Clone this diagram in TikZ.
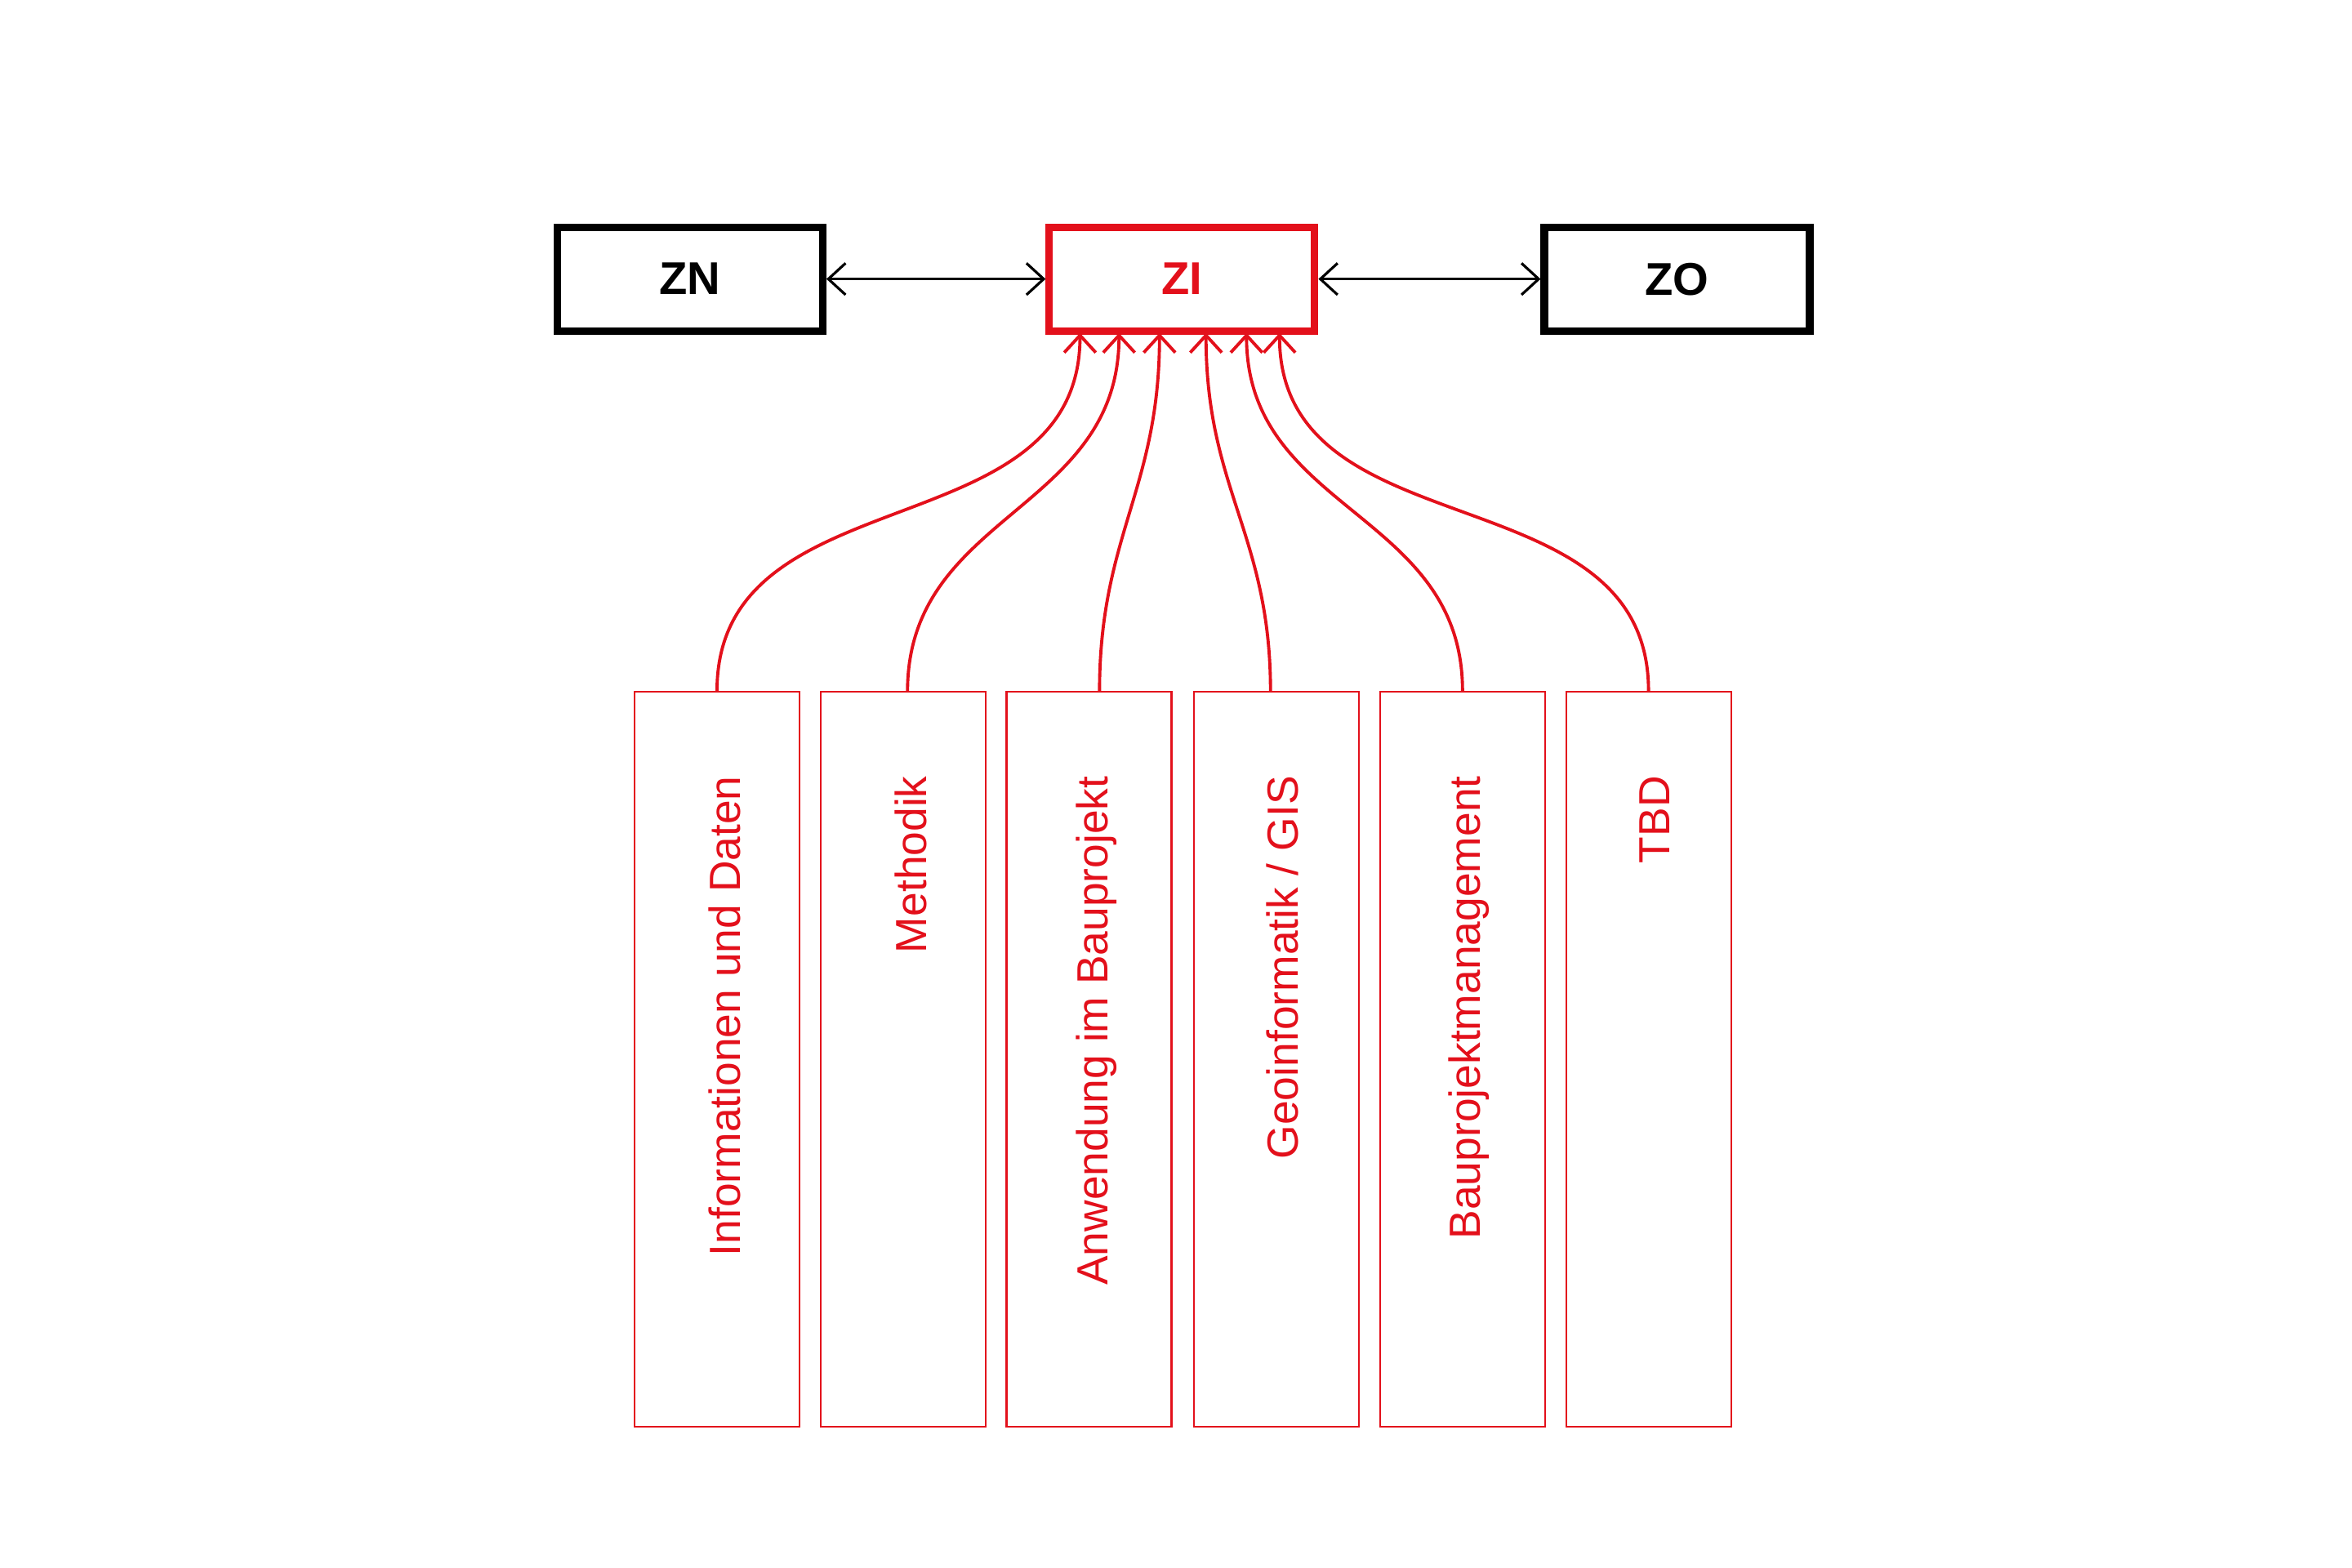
\documentclass[tikz,border=0pt]{standalone}
\usepackage{fontspec}
\setmainfont{Liberation Sans}
\usetikzlibrary{arrows.meta}
\definecolor{zired}{HTML}{E3101B}

\begin{document}
\begin{tikzpicture}[x=0.018367cm, y=-0.018367cm,
    topbox/.style={draw=black, line width=2.6pt, minimum width=3.25cm, minimum height=1.27cm, text depth=-2pt, font=\fontsize{16}{18}\selectfont\bfseries},
    subbox/.style={draw=zired, line width=0.6pt, minimum width=2.02cm, minimum height=9.0cm},
    sublabel/.style={rotate=90, anchor=east, text=zired, font=\fontsize{15.2}{17}\selectfont, inner sep=0pt},
    link/.style={draw=zired, line width=1.1pt, -{Straight Barb[length=6pt,width=11pt]}},
    pair/.style={line width=0.9pt, {Straight Barb[length=6pt,width=11pt]}-{Straight Barb[length=6pt,width=11pt]}}]
  \useasboundingbox (0,0) rectangle (1568,1045);

  % Top row
  \node[topbox] (ZN) at (460,186) {ZN};
  \node[topbox, draw=zired, text=zired] (ZI) at (788,186) {ZI};
  \node[topbox] (ZO) at (1118,186) {ZO};

  % Arrows between top boxes
  \draw[pair] (ZN) -- (ZI);
  \draw[pair] (ZI) -- (ZO);

  % Lower boxes
  \node[subbox] (info) at (478,706) {};
  \node[subbox] (meth) at (602,706) {};
  \node[subbox] (anw) at (726,706) {};
  \node[subbox] (geo) at (851,706) {};
  \node[subbox] (bpm) at (975,706) {};
  \node[subbox] (tbd) at (1099,706) {};

  % Labels
  \node[sublabel] (infoL) at (483,517) {Informationen und Daten};
  \node[sublabel] (methL) at (607,517) {Methodik};
  \node[sublabel] (anwL) at (731,517) {Anwendung im Bauprojekt};
  \node[sublabel] (geoL) at (855,517) {Geoinformatik / GIS};
  \node[sublabel] (bpmL) at (979,517) {Bauprojektmanagement};
  \node[sublabel] (tbdL) at (1103,517) {TBD};

  % Curved links into ZI
  \coordinate (z1) at (720,222);
  \coordinate (z2) at (746,222);
  \coordinate (z3) at (773,222);
  \coordinate (z4) at (804,222);
  \coordinate (z5) at (831,222);
  \coordinate (z6) at (853,222);
  \draw[link] (info.north) to[out=90, in=-90, looseness=1.1] (z1);
  \draw[link] (605,461) to[out=90, in=-90, looseness=1.1] (z2);
  \draw[link] (733,461) to[out=90, in=-90, looseness=1.1] (z3);
  \draw[link] (847,461) to[out=90, in=-90, looseness=1.1] (z4);
  \draw[link] (bpm.north) to[out=90, in=-90, looseness=1.1] (z5);
  \draw[link] (tbd.north) to[out=90, in=-90, looseness=1.1] (z6);
\end{tikzpicture}
\end{document}
